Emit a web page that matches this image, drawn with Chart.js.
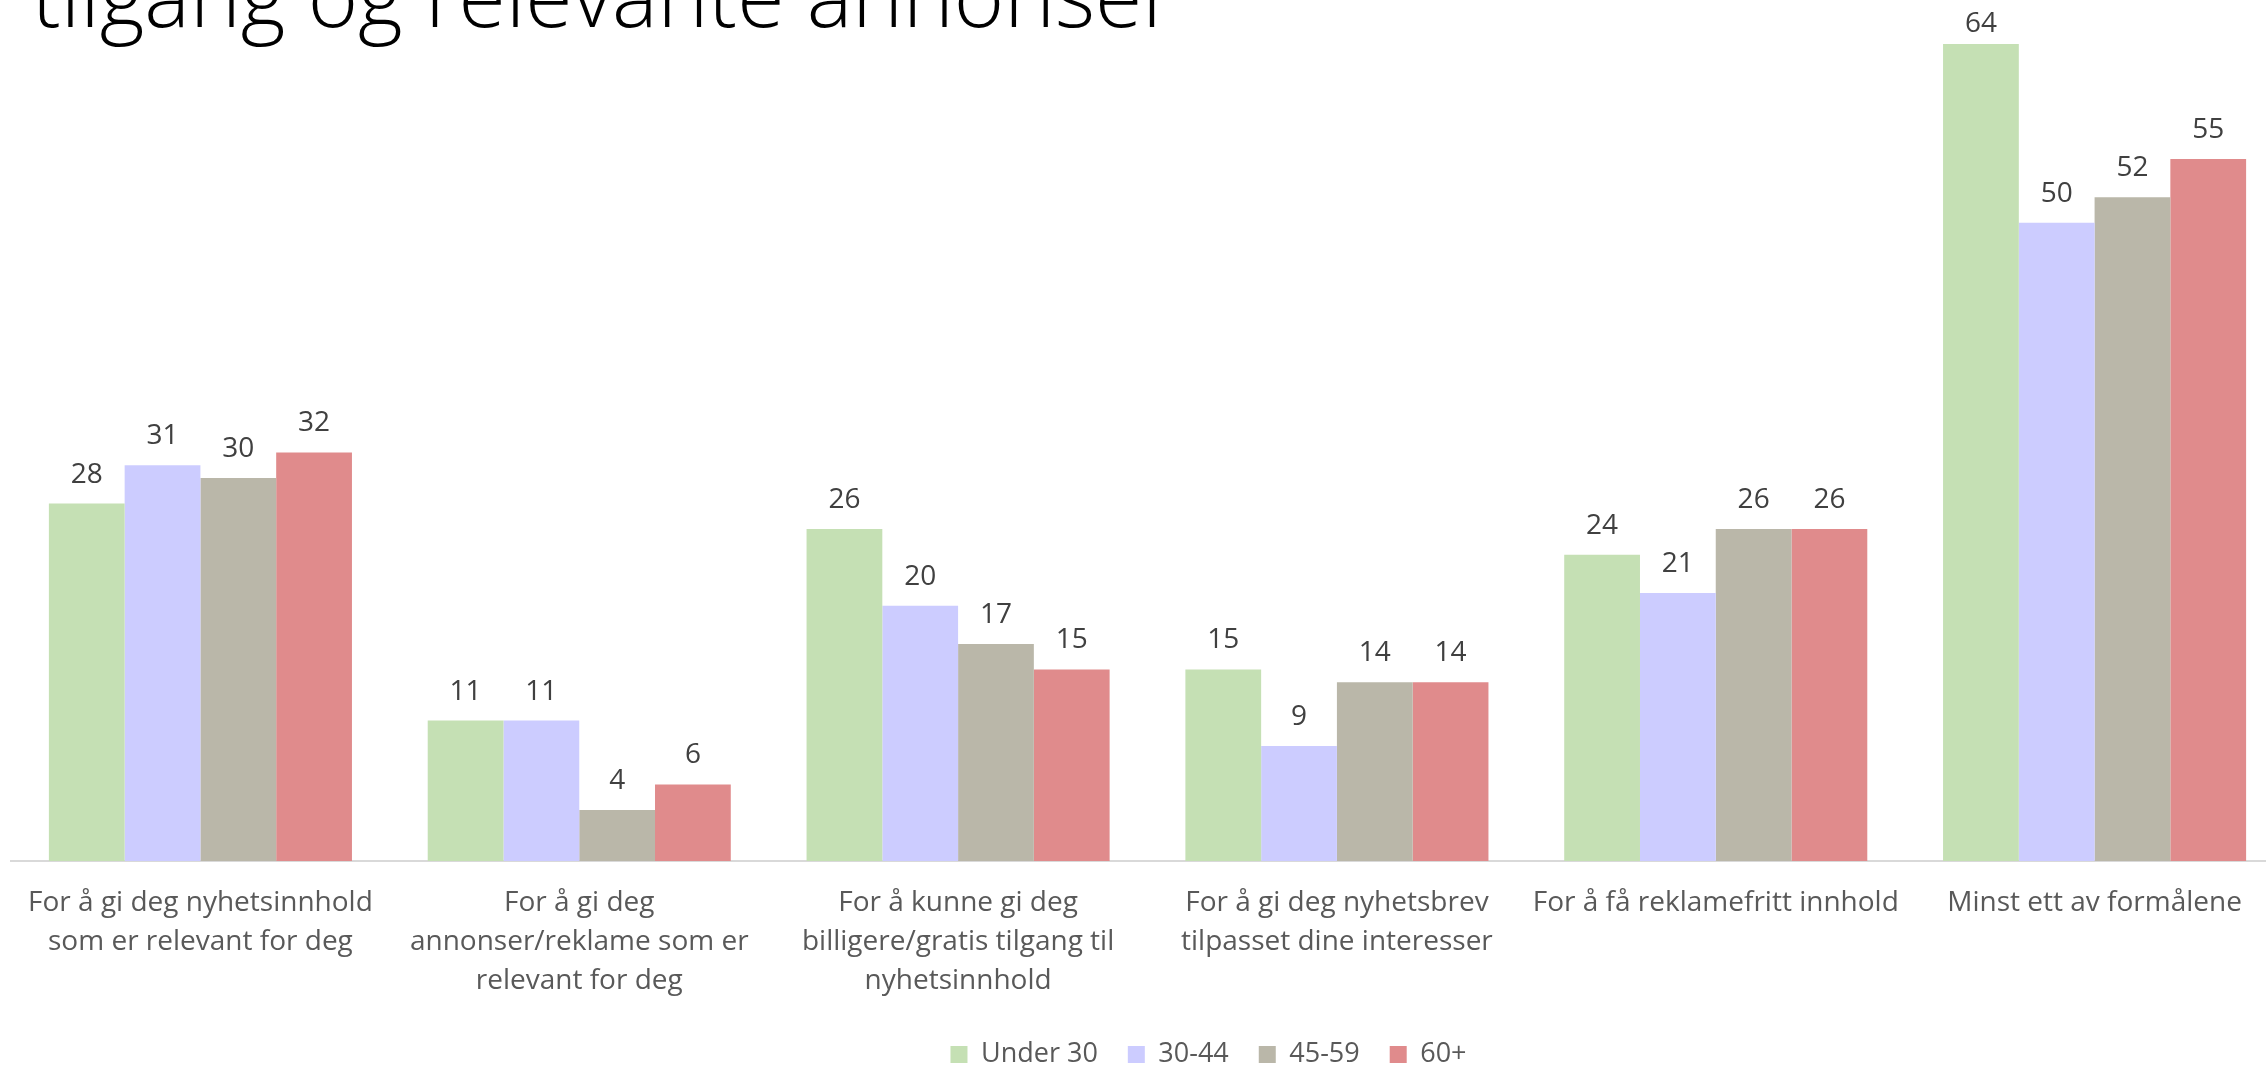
<!DOCTYPE html>
<html>
<head>
<meta charset="utf-8">
<title>Formål</title>
<script src="https://cdn.jsdelivr.net/npm/chart.js@4.4.0/dist/chart.umd.min.js"></script>
<style>
  html, body { margin: 0; padding: 0; overflow: hidden; background: #fff; }
  #wrap { position: absolute; left: 0; top: 0; width: 2406px; height: 1078px; }
</style>
</head>
<body>
<div id="wrap"><canvas id="purposeChart"></canvas></div>
<script>
const categories = [
    ['For å gi deg nyhetsinnhold', 'som er relevant for deg'],
    ['For å gi deg', 'annonser/reklame som er', 'relevant for deg'],
    ['For å kunne gi deg', 'billigere/gratis tilgang til', 'nyhetsinnhold'],
    ['For å gi deg nyhetsbrev', 'tilpasset dine interesser'],
    'For å få reklamefritt innhold',
    'Minst ett av formålene'
]
const seriesNames = ['Under 30', '30-44', '45-59', '60+']
const under30 = [28, 11, 26, 15, 24, 64]
const age30to44 = [31, 11, 20, 9, 21, 50]
const age45to59 = [30, 4, 17, 14, 26, 52]
const age60plus = [32, 6, 15, 14, 26, 55]
const seriesColors = ['#c5e0b4', '#ccccff', '#bab7a9', '#e08b8c']
const headline = 'tilgang og relevante annonser'
const yMax = 67.45

const FONT = '"Open Sans", "DejaVu Sans", sans-serif'

// numbers above each bar, kept inside the top of the plot
const valueLabels = {
    id: 'valueLabels',
    afterDatasetsDraw(chart) {
        const ctx = chart.ctx
        ctx.save()
        ctx.font = '28px ' + FONT
        ctx.fillStyle = '#404040'
        ctx.textAlign = 'center'
        ctx.textBaseline = 'middle'
        chart.data.datasets.forEach((ds, i) => {
            chart.getDatasetMeta(i).data.forEach((bar, j) => {
                const y = Math.max(bar.y - 29, chart.chartArea.top + 24)
                ctx.fillText(ds.data[j], bar.x, y)
            })
        })
        ctx.restore()
    }
}

// second line of the slide heading
const headlineText = {
    id: 'headlineText',
    afterDraw(chart) {
        const ctx = chart.ctx
        ctx.save()
        ctx.font = '300 86px ' + FONT
        ctx.fillStyle = '#000'
        ctx.textAlign = 'left'
        ctx.textBaseline = 'alphabetic'
        ctx.fillText(headline, 32, 27)
        ctx.restore()
    }
}

const seriesData = [under30, age30to44, age45to59, age60plus]

new Chart(document.getElementById('purposeChart').getContext('2d'), {
    type: 'bar',
    data: {
        labels: categories,
        datasets: seriesNames.map((name, i) => ({
            label: name,
            data: seriesData[i],
            backgroundColor: seriesColors[i],
            borderWidth: 0,
            categoryPercentage: 0.8,
            barPercentage: 1.0
        }))
    },
    options: {
        responsive: true,
        maintainAspectRatio: false,
        animation: false,
        devicePixelRatio: 1,
        events: [],
        layout: { padding: { left: 11, right: 0, top: 0, bottom: 0 } },
        plugins: {
            legend: {
                position: 'bottom',
                labels: {
                    boxWidth: 17,
                    boxHeight: 17,
                    padding: 30,
                    color: '#595959',
                    font: { family: FONT, size: 27 }
                }
            },
            tooltip: { enabled: false }
        },
        scales: {
            x: {
                grid: { display: false, drawTicks: false },
                border: { display: true, color: '#d9d9d9', width: 2 },
                ticks: {
                    color: '#595959',
                    font: { family: FONT, size: 28, lineHeight: 1.4 },
                    padding: 22,
                    maxRotation: 0,
                    autoSkip: false
                },
                afterFit: (s) => { s.height = 150 }
            },
            y: {
                position: 'right',
                min: 0,
                max: yMax,
                grid: { display: false, drawTicks: false },
                border: { display: false },
                ticks: { display: false },
                afterFit: (s) => { s.width = 122 }
            }
        }
    },
    plugins: [valueLabels, headlineText]
})
</script>
</body>
</html>
